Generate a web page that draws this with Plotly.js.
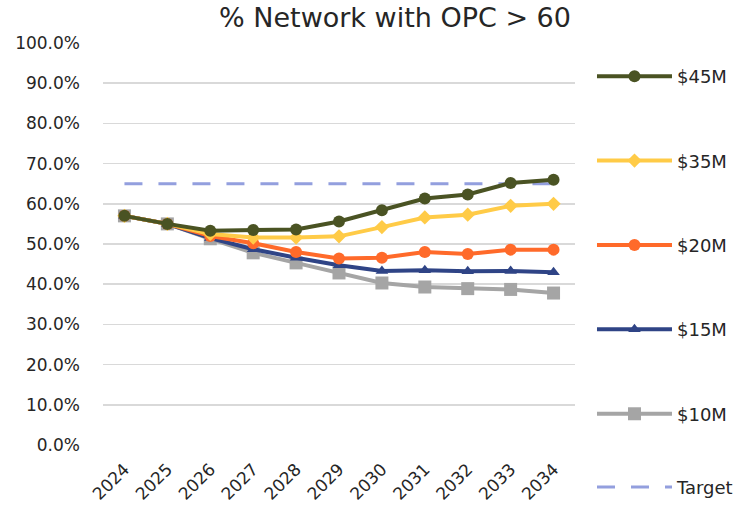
<!DOCTYPE html>
<html><head><meta charset="utf-8">
<script src="https://cdn.plot.ly/plotly-3.0.1.min.js"></script>
<style>html,body{margin:0;padding:0;background:#fff;}#chart{width:751px;height:519px;}</style>
</head><body><div id="chart"></div>
<script>
const years = ['2024','2025','2026','2027','2028','2029','2030','2031','2032','2033','2034'];
const s45 = [0.57,0.55,0.533,0.535,0.536,0.556,0.584,0.613,0.623,0.652,0.660];
const s35 = [0.57,0.55,0.525,0.516,0.516,0.519,0.542,0.566,0.573,0.595,0.600];
const s20 = [0.57,0.55,0.52,0.502,0.48,0.464,0.466,0.480,0.475,0.486,0.486];
const s15 = [0.57,0.55,0.515,0.487,0.466,0.447,0.433,0.435,0.432,0.433,0.430];
const s10 = [0.57,0.55,0.513,0.478,0.453,0.428,0.403,0.393,0.389,0.387,0.378];
const target = [0.65,0.65,0.65,0.65,0.65,0.65,0.65,0.65,0.65,0.65,0.65];
const names = ['$45M','$35M','$20M','$15M','$10M','Target'];

const FONT = '"DejaVu Sans", "Open Sans", sans-serif';
const defs = [
  {y:s10, name:names[4], color:'#A5A5A5', symbol:'square', size:13},
  {y:s15, name:names[3], color:'#2F4486', symbol:'triangle-up', size:11},
  {y:s20, name:names[2], color:'#FF6A2A', symbol:'circle', size:12},
  {y:s35, name:names[1], color:'#FFCB47', symbol:'diamond', size:11},
  {y:s45, name:names[0], color:'#4A5323', symbol:'circle', size:12}
];
const order = {'$45M':1,'$35M':2,'$20M':3,'$15M':4,'$10M':5,'Target':6};
const traces = [];
traces.push({x:years, y:target, name:names[5], type:'scatter', mode:'lines',
  line:{color:'#939FDE', width:3, dash:'18px,16px'}, legend:'legend2', hoverinfo:'skip'});
defs.forEach(d=>{
  traces.push({x:years, y:d.y, name:d.name, type:'scatter', mode:'lines+markers',
    line:{color:d.color, width:4}, marker:{color:d.color, symbol:d.symbol, size:d.size},
    legendgroup:'g'+order[d.name], legendrank:order[d.name]});
});

const legFont = {size:18, color:'#262626', family:FONT};
const layout = {
  width:751, height:519,
  margin:{l:103, r:173, t:42.5, b:74},
  paper_bgcolor:'#fff', plot_bgcolor:'#fff',
  font:{family:FONT, color:'#262626'},
  title:{text:'% Network with OPC > 60', x:395/751, xanchor:'center', y:1-18/519, yanchor:'middle',
    font:{size:27, color:'#262626', family:FONT}},
  xaxis:{type:'category', range:[-0.5,10.5], showgrid:false, zeroline:false, showline:false, automargin:false,
    ticks:'', tickangle:-45, ticklabelstandoff:10, tickfont:{size:17, color:'#262626', family:FONT}},
  yaxis:{range:[0,1.0], dtick:0.1, tickformat:'.1%', showgrid:true, gridcolor:'#D9D9D9', gridwidth:1.5,
    zeroline:false, showline:false, ticks:'', ticklabelstandoff:22, automargin:false,
    tickfont:{size:17, color:'#262626', family:FONT}},
  showlegend:true,
  legend:{x:1.036, xanchor:'left', y:1-15/403, yanchor:'top', xref:'paper', traceorder:'grouped',
    tracegroupgap:58, itemwidth:75, font:legFont, bgcolor:'rgba(0,0,0,0)'},
  legend2:{x:1.036, xanchor:'left', y:-0.105, yanchor:'middle', xref:'paper',
    itemwidth:75, font:legFont, bgcolor:'rgba(0,0,0,0)'},
  hovermode:false
};
Plotly.newPlot('chart', traces, layout, {displayModeBar:false, staticPlot:true});
</script></body></html>
